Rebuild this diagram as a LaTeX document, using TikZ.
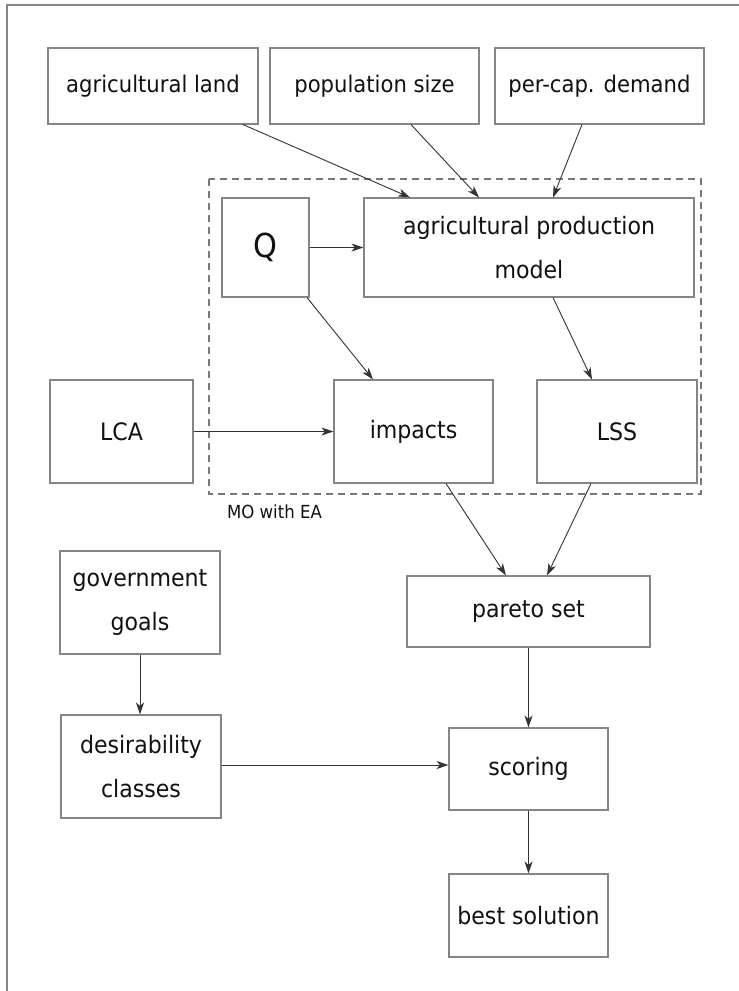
\documentclass[tikz,border=0pt]{standalone}
\usepackage{fontspec}
\setmainfont{DejaVu Sans}
\newfontfamily\cfont[FakeStretch=0.92]{DejaVu Sans}
\usetikzlibrary{arrows.meta}
\definecolor{boxgray}{HTML}{858585}
\definecolor{arrgray}{HTML}{333333}
\definecolor{txt}{HTML}{111111}
\begin{document}
\begin{tikzpicture}[x=1pt,y=-1pt,
  box/.style={draw=boxgray,line width=1.1pt,rectangle,inner sep=0pt,align=center,text=txt,
    font=\cfont\fontsize{24}{44}\selectfont},
  topbox/.style={box,font=\cfont\fontsize{23}{30}\selectfont},
  conn/.style={draw=arrgray,line width=0.9pt,-{Stealth[length=12pt,width=8pt,inset=3.5pt]}}
]
\useasboundingbox (0,0) rectangle (739,991);
\fill[white] (0,0) rectangle (739,991);
\draw[boxgray,line width=1.2pt] (7,991) -- (7,5) -- (739,5);

% dashed region
\draw[boxgray!90!black,line width=1.3pt,dash pattern=on 7pt off 5pt] (209,179) rectangle (701,494);
\node[font=\cfont\fontsize{18}{20}\selectfont,text=txt,inner sep=0pt] (mo) at (274.5,512) {MO with EA};

% top row
\node[topbox,minimum width=210pt,minimum height=76pt] (agland) at (153,86) {agricultural land};
\node[topbox,minimum width=209pt,minimum height=76pt] (pop) at (374.5,86) {population size};
\node[topbox,minimum width=209pt,minimum height=76pt] (demand) at (599.5,86) {per-cap. demand};

% model row
\node[box,minimum width=87pt,minimum height=99pt,font=\cfont\fontsize{33}{36}\selectfont] (Q) at (265.5,247.5) {Q};
\node[box,minimum width=330pt,minimum height=99pt] (apm) at (529,247.5) {agricultural production\\model};

% impacts row
\node[box,minimum width=143pt,minimum height=103pt] (lca) at (121.5,431.5) {LCA};
\node[box,minimum width=159pt,minimum height=103pt] (impacts) at (413.5,431.5) {impacts};
\node[box,minimum width=160pt,minimum height=103pt] (lss) at (617,431.5) {LSS};

% lower part
\node[box,minimum width=243pt,minimum height=71pt] (pareto) at (528.5,611.5) {pareto set};
\node[box,minimum width=159pt,minimum height=82pt] (scoring) at (528.5,769) {scoring};
\node[box,minimum width=159pt,minimum height=83pt] (best) at (528.5,915.5) {best solution};
\node[box,minimum width=160pt,minimum height=103pt] (gov) at (140,602.5) {government\\goals};
\node[box,minimum width=160pt,minimum height=103pt] (desir) at (141,766.5) {desirability\\classes};

% connectors
\draw[conn] ([xshift=90pt]agland.south) -- ([xshift=-119pt]apm.north);
\draw[conn] ([xshift=36.5pt]pop.south) -- ([xshift=-50pt]apm.north);
\draw[conn] ([xshift=-17.5pt]demand.south) -- ([xshift=24pt]apm.north);
\draw[conn] (Q.east) -- (apm.west);
\draw[conn] ([xshift=41.5pt]Q.south) -- ([xshift=-40.5pt]impacts.north);
\draw[conn] ([xshift=24pt]apm.south) -- ([xshift=-25pt]lss.north);
\draw[conn] (lca.east) -- (impacts.west);
\draw[conn] ([xshift=32.5pt]impacts.south) -- ([xshift=-22.5pt]pareto.north);
\draw[conn] ([xshift=-26pt]lss.south) -- ([xshift=18.5pt]pareto.north);
\draw[conn] (pareto.south) -- (scoring.north);
\draw[conn] (scoring.south) -- (best.north);
\draw[conn] (gov.south) -- (gov.south |- desir.north);
\draw[conn] ([yshift=1.5pt]desir.east) -- ([yshift=1.5pt]desir.east -| scoring.west);
\end{tikzpicture}
\end{document}
